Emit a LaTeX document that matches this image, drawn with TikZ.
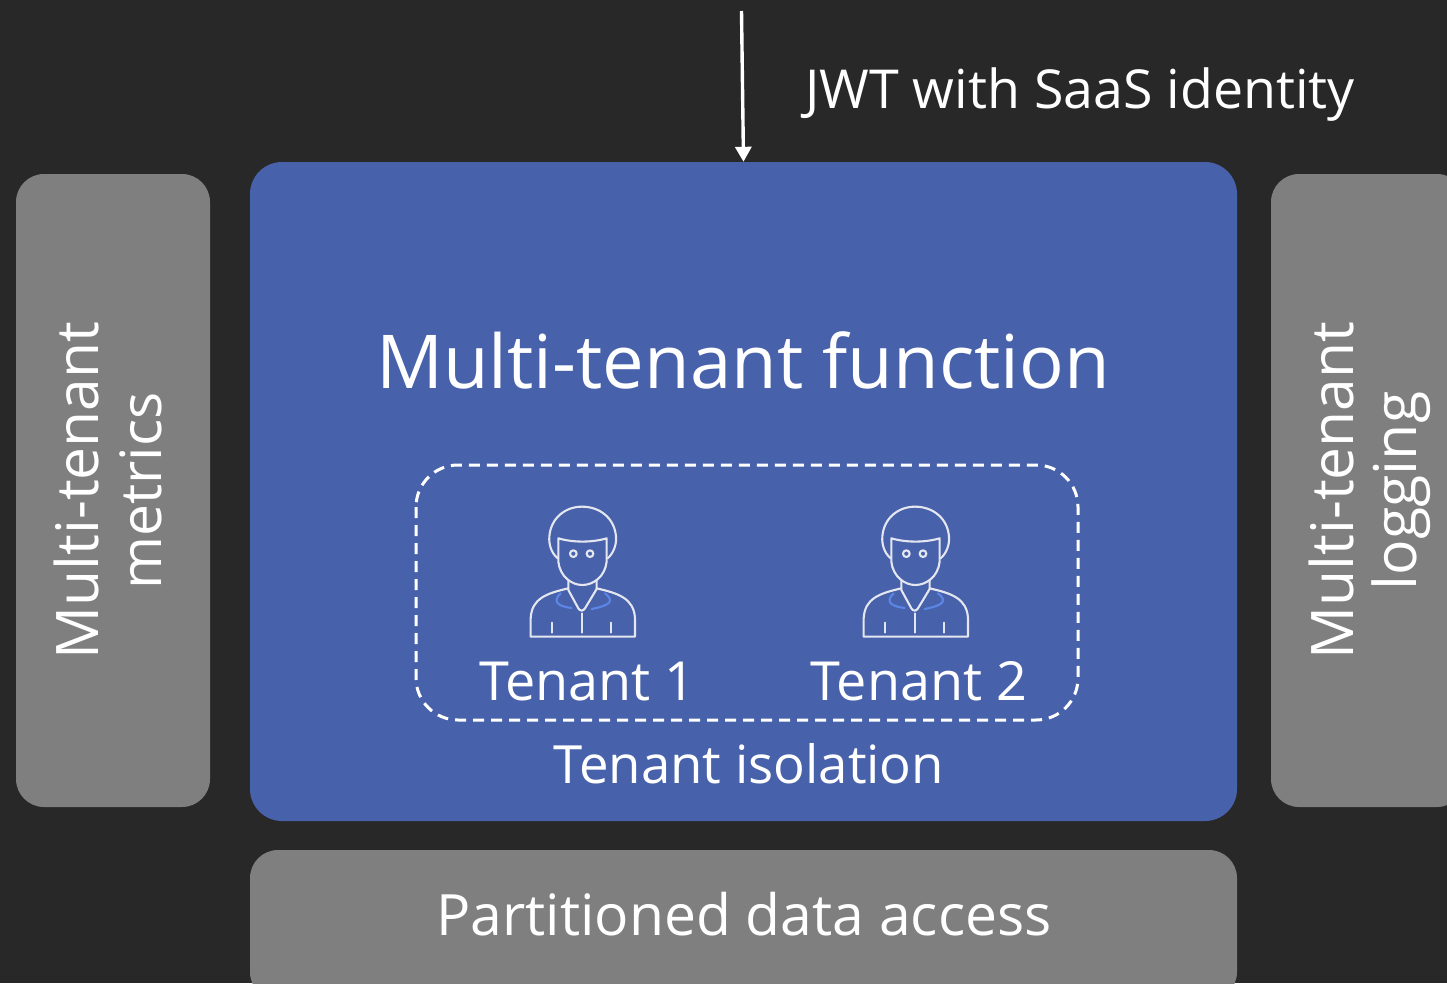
\documentclass[tikz,border=0pt]{standalone}
\usepackage{fontspec}
\setmainfont{Open Sans}
\usetikzlibrary{arrows.meta}
\definecolor{bgc}{HTML}{282828}
\definecolor{mainblue}{HTML}{4861AB}
\definecolor{sidegray}{HTML}{7F7F7F}
\definecolor{iconline}{HTML}{E4E7F0}
\definecolor{collar}{HTML}{5C86E6}
\tikzset{
  x=1pt,y=-1pt,
  panel/.style={draw=none,fill=sidegray,rounded corners=28pt,inner sep=0pt,minimum width=#1},
  label/.style={text=white,inner sep=0pt,anchor=base},
  person/.pic={
    \begin{scope}[x=0.3333pt,y=-0.3333pt,line width=2.1pt,draw=iconline,line join=round,line cap=round]
      \draw (143,205) .. controls (125,190) and (116,165) .. (118,140) .. controls (122,85) and (165,50) .. (216,50) .. controls (270,50) and (314,85) .. (318,140) .. controls (320,165) and (310,190) .. (293,205);
      \draw (145,145) .. controls (190,158) and (245,158) .. (290,145) -- (290,215) .. controls (285,260) and (250,285) .. (217,285) .. controls (185,285) and (150,260) .. (145,215) -- cycle;
      \draw (190,191) circle[radius=10];
      \draw (240,191) circle[radius=10];
      \draw (175,272) -- (175,300) -- (205,355) .. controls (210,364) and (220,364) .. (225,355) -- (260,297) -- (260,272);
      \draw (175,295) .. controls (110,310) and (65,325) .. (62,385) -- (62,440) -- (375,440) -- (375,385) .. controls (372,325) and (325,310) .. (260,295);
      \draw (127,398) -- (127,428);
      \draw (216,370) -- (216,428);
      \draw (303,398) -- (303,428);
      \draw[draw=collar] (152,310) .. controls (130,330) and (135,348) .. (185,354);
      \draw[draw=collar] (285,310) .. controls (312,332) and (305,345) .. (245,357);
    \end{scope}
  }
}
\begin{document}
\begin{tikzpicture}
\useasboundingbox (0,0) rectangle (1447,983);
\clip (0,0) rectangle (1447,983);
\fill[bgc] (0,0) rectangle (1447,983);
\node[panel=194pt,minimum height=633pt] (metrics) at (113,490.5) {};
\node[panel=194pt,minimum height=633pt] (logging) at (1368,490.5) {};
\node[panel=987pt,minimum height=150pt] (data) at (743.5,925) {};
\node[panel=987pt,minimum height=659pt,fill=mainblue,rounded corners=32pt] (main) at (743.5,491.5) {};
\coordinate (top) at (741.5,11);
\draw[white,line width=3.4pt,-{Triangle[width=16pt,length=15pt]}] (top) -- (main.north);
\node[label,font=\fontsize{53.7}{60}\selectfont] (jwt) at (1080,108) {JWT with SaaS identity};
\node[label,font=\fontsize{74.3}{84}\selectfont] (func) at (743,388) {Multi-tenant function};
\node[label,font=\fontsize{52.7}{58}\selectfont] (iso) at (749,783) {Tenant isolation};
\node[label,font=\fontsize{53.9}{58}\selectfont] (t1) at (587.5,700) {Tenant 1};
\node[label,font=\fontsize{53.9}{58}\selectfont] (t2) at (919,700) {Tenant 2};
\node[label,font=\fontsize{57}{65}\selectfont] (pda) at (744,935) {Partitioned data access};
\node[label,rotate=90,font=\fontsize{58.7}{65}\selectfont] (m1) at (98,490.5) {Multi-tenant};
\node[label,rotate=90,font=\fontsize{57}{65}\selectfont] (m2) at (161,491) {metrics};
\node[label,rotate=90,font=\fontsize{58.7}{65}\selectfont] (l1) at (1353,490.5) {Multi-tenant};
\node[label,rotate=90,font=\fontsize{59}{65}\selectfont] (l2) at (1416,491) {logging};
\draw[white,line width=3pt,dash pattern=on 11pt off 7pt,rounded corners=42pt] (416,465) rectangle (1078,720);
\pic at (510,490) {person};
\pic at (843,490) {person};
\end{tikzpicture}
\end{document}
